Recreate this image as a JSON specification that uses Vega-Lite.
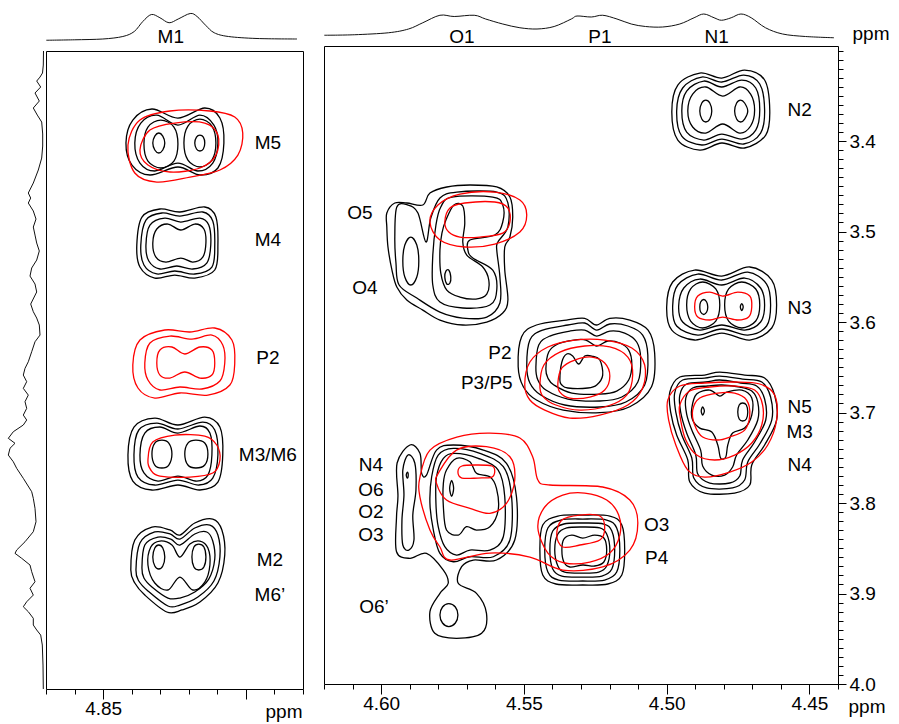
{
"$schema":"https://vega.github.io/schema/vega-lite/v6.json",
"padding":{"left":0,"top":4,"right":2,"bottom":2},
"spacing":18,
"config":{
 "view":{"stroke":"black","strokeWidth":1},
 "font":"Liberation Sans",
 "axis":{"labelFont":"Liberation Sans","labelFontSize":19,"labelColor":"black","tickColor":"black","tickWidth":1,"domain":false,"grid":false,"titleFont":"Liberation Sans","titleFontSize":19,"titleFontWeight":"normal","titleColor":"black"},
 "text":{"font":"Liberation Sans","fontSize":19,"color":"black"}
},
"datasets":{
"lk":[
{"g":1,"x":4.842,"y":3.3967},{"g":1,"x":4.8396,"y":3.3713},{"g":1,"x":4.8329,"y":3.3591},{"g":1,"x":4.8238,"y":3.3691},{"g":1,"x":4.8144,"y":3.358},{"g":1,"x":4.8091,"y":3.3691},{"g":1,"x":4.8077,"y":3.3967},{"g":1,"x":4.8098,"y":3.4243},{"g":1,"x":4.8161,"y":3.432},{"g":1,"x":4.8238,"y":3.4232},{"g":1,"x":4.8336,"y":3.432},{"g":1,"x":4.8399,"y":3.421},
{"g":2,"x":4.8389,"y":3.3967},{"g":2,"x":4.8368,"y":3.3746},{"g":2,"x":4.8312,"y":3.3658},{"g":2,"x":4.8238,"y":3.3768},{"g":2,"x":4.8161,"y":3.3658},{"g":2,"x":4.8112,"y":3.3768},{"g":2,"x":4.8098,"y":3.3967},{"g":2,"x":4.8116,"y":3.4188},{"g":2,"x":4.8168,"y":3.4276},{"g":2,"x":4.8238,"y":3.4188},{"g":2,"x":4.8319,"y":3.4276},{"g":2,"x":4.8371,"y":3.4188},
{"g":3,"x":4.8357,"y":3.3978},{"g":3,"x":4.8343,"y":3.379},{"g":3,"x":4.8298,"y":3.3713},{"g":3,"x":4.8252,"y":3.379},{"g":3,"x":4.8238,"y":3.3978},{"g":3,"x":4.8252,"y":3.4166},{"g":3,"x":4.8298,"y":3.4243},{"g":3,"x":4.8343,"y":3.4166},
{"g":4,"x":4.8217,"y":3.3967},{"g":4,"x":4.8203,"y":3.3779},{"g":4,"x":4.8161,"y":3.3702},{"g":4,"x":4.8119,"y":3.3779},{"g":4,"x":4.8105,"y":3.3967},{"g":4,"x":4.8119,"y":3.4155},{"g":4,"x":4.8161,"y":3.4232},{"g":4,"x":4.8203,"y":3.4155},
{"g":5,"x":4.8326,"y":3.3967},{"g":5,"x":4.8319,"y":3.389},{"g":5,"x":4.8305,"y":3.3856},{"g":5,"x":4.8291,"y":3.389},{"g":5,"x":4.8284,"y":3.3967},{"g":5,"x":4.8291,"y":3.4044},{"g":5,"x":4.8305,"y":3.4077},{"g":5,"x":4.8319,"y":3.4044},
{"g":6,"x":4.8179,"y":3.3967},{"g":6,"x":4.8173,"y":3.3901},{"g":6,"x":4.8161,"y":3.3879},{"g":6,"x":4.8149,"y":3.3901},{"g":6,"x":4.8144,"y":3.3967},{"g":6,"x":4.8149,"y":3.4033},{"g":6,"x":4.8161,"y":3.4055},{"g":6,"x":4.8173,"y":3.4033},
{"g":7,"x":4.8382,"y":3.5094},{"g":7,"x":4.8364,"y":3.4785},{"g":7,"x":4.8301,"y":3.4696},{"g":7,"x":4.8231,"y":3.4729},{"g":7,"x":4.8144,"y":3.4674},{"g":7,"x":4.8105,"y":3.4785},{"g":7,"x":4.8098,"y":3.5094},{"g":7,"x":4.8109,"y":3.537},{"g":7,"x":4.8179,"y":3.5459},{"g":7,"x":4.8249,"y":3.5426},{"g":7,"x":4.8319,"y":3.5459},{"g":7,"x":4.8371,"y":3.5337},
{"g":8,"x":4.8368,"y":3.5094},{"g":8,"x":4.835,"y":3.4818},{"g":8,"x":4.8294,"y":3.474},{"g":8,"x":4.8231,"y":3.4774},{"g":8,"x":4.8151,"y":3.4729},{"g":8,"x":4.8116,"y":3.4829},{"g":8,"x":4.8109,"y":3.5094},{"g":8,"x":4.8119,"y":3.5337},{"g":8,"x":4.8179,"y":3.5414},{"g":8,"x":4.8249,"y":3.5381},{"g":8,"x":4.8312,"y":3.5414},{"g":8,"x":4.8357,"y":3.5315},
{"g":9,"x":4.835,"y":3.5094},{"g":9,"x":4.8336,"y":3.4873},{"g":9,"x":4.8284,"y":3.4796},{"g":9,"x":4.8228,"y":3.484},{"g":9,"x":4.8161,"y":3.4796},{"g":9,"x":4.813,"y":3.4873},{"g":9,"x":4.8123,"y":3.5094},{"g":9,"x":4.8137,"y":3.5293},{"g":9,"x":4.8186,"y":3.5359},{"g":9,"x":4.8242,"y":3.5326},{"g":9,"x":4.8301,"y":3.5359},{"g":9,"x":4.834,"y":3.5271},
{"g":10,"x":4.8326,"y":3.5072},{"g":10,"x":4.8312,"y":3.4917},{"g":10,"x":4.8273,"y":3.4862},{"g":10,"x":4.8228,"y":3.4928},{"g":10,"x":4.8179,"y":3.4862},{"g":10,"x":4.8147,"y":3.4917},{"g":10,"x":4.814,"y":3.5072},{"g":10,"x":4.8151,"y":3.5227},{"g":10,"x":4.8186,"y":3.5282},{"g":10,"x":4.8228,"y":3.5238},{"g":10,"x":4.828,"y":3.5282},{"g":10,"x":4.8315,"y":3.5227},
{"g":11,"x":4.8413,"y":3.7415},{"g":11,"x":4.8392,"y":3.7105},{"g":11,"x":4.8319,"y":3.7006},{"g":11,"x":4.8238,"y":3.7083},{"g":11,"x":4.8144,"y":3.6995},{"g":11,"x":4.8091,"y":3.7105},{"g":11,"x":4.8081,"y":3.7415},{"g":11,"x":4.8098,"y":3.7713},{"g":11,"x":4.8161,"y":3.7801},{"g":11,"x":4.8238,"y":3.7746},{"g":11,"x":4.8329,"y":3.7801},{"g":11,"x":4.8396,"y":3.7702},
{"g":12,"x":4.8392,"y":3.7415},{"g":12,"x":4.8375,"y":3.7138},{"g":12,"x":4.8312,"y":3.7061},{"g":12,"x":4.8238,"y":3.7127},{"g":12,"x":4.8151,"y":3.705},{"g":12,"x":4.8109,"y":3.7138},{"g":12,"x":4.8098,"y":3.7415},{"g":12,"x":4.8116,"y":3.7669},{"g":12,"x":4.8165,"y":3.7746},{"g":12,"x":4.8238,"y":3.7691},{"g":12,"x":4.8319,"y":3.7746},{"g":12,"x":4.8378,"y":3.7658},
{"g":13,"x":4.8371,"y":3.7415},{"g":13,"x":4.8354,"y":3.7172},{"g":13,"x":4.8301,"y":3.7105},{"g":13,"x":4.8238,"y":3.7172},{"g":13,"x":4.8161,"y":3.7094},{"g":13,"x":4.8126,"y":3.7172},{"g":13,"x":4.8119,"y":3.7415},{"g":13,"x":4.8133,"y":3.7636},{"g":13,"x":4.8172,"y":3.7702},{"g":13,"x":4.8238,"y":3.7647},{"g":13,"x":4.8308,"y":3.7702},{"g":13,"x":4.8357,"y":3.7613},
{"g":14,"x":4.8329,"y":3.7403},{"g":14,"x":4.8319,"y":3.7282},{"g":14,"x":4.8294,"y":3.7249},{"g":14,"x":4.827,"y":3.7282},{"g":14,"x":4.8259,"y":3.7403},{"g":14,"x":4.827,"y":3.7525},{"g":14,"x":4.8294,"y":3.7558},{"g":14,"x":4.8319,"y":3.7525},
{"g":15,"x":4.8214,"y":3.7403},{"g":15,"x":4.8203,"y":3.7282},{"g":15,"x":4.8175,"y":3.7249},{"g":15,"x":4.8144,"y":3.7282},{"g":15,"x":4.8133,"y":3.7403},{"g":15,"x":4.8144,"y":3.7525},{"g":15,"x":4.8175,"y":3.7558},{"g":15,"x":4.8203,"y":3.7525},
{"g":16,"x":4.8403,"y":3.8685},{"g":16,"x":4.8389,"y":3.8354},{"g":16,"x":4.8329,"y":3.821},{"g":16,"x":4.8266,"y":3.8243},{"g":16,"x":4.8231,"y":3.8299},{"g":16,"x":4.8179,"y":3.8166},{"g":16,"x":4.8116,"y":3.8122},{"g":16,"x":4.8084,"y":3.8243},{"g":16,"x":4.8074,"y":3.852},{"g":16,"x":4.8098,"y":3.8829},{"g":16,"x":4.8161,"y":3.9039},{"g":16,"x":4.8224,"y":3.9127},{"g":16,"x":4.8277,"y":3.9149},{"g":16,"x":4.8354,"y":3.8962},{"g":16,"x":4.8389,"y":3.8829},
{"g":17,"x":4.8385,"y":3.8685},{"g":17,"x":4.8371,"y":3.8387},{"g":17,"x":4.8319,"y":3.8265},{"g":17,"x":4.8266,"y":3.8287},{"g":17,"x":4.8231,"y":3.8343},{"g":17,"x":4.8179,"y":3.8221},{"g":17,"x":4.8126,"y":3.8188},{"g":17,"x":4.8098,"y":3.8299},{"g":17,"x":4.8091,"y":3.8542},{"g":17,"x":4.8112,"y":3.8807},{"g":17,"x":4.8168,"y":3.8984},{"g":17,"x":4.8231,"y":3.9072},{"g":17,"x":4.8273,"y":3.9083},{"g":17,"x":4.8343,"y":3.8917},{"g":17,"x":4.8375,"y":3.8807},
{"g":18,"x":4.8364,"y":3.8663},{"g":18,"x":4.8354,"y":3.8409},{"g":18,"x":4.8308,"y":3.8321},{"g":18,"x":4.8263,"y":3.8343},{"g":18,"x":4.8231,"y":3.8409},{"g":18,"x":4.8179,"y":3.8287},{"g":18,"x":4.8137,"y":3.8265},{"g":18,"x":4.8116,"y":3.8365},{"g":18,"x":4.8109,"y":3.8564},{"g":18,"x":4.813,"y":3.8785},{"g":18,"x":4.8179,"y":3.8928},{"g":18,"x":4.8231,"y":3.8995},{"g":18,"x":4.8273,"y":3.8995},{"g":18,"x":4.8329,"y":3.8873},{"g":18,"x":4.8357,"y":3.8774},
{"g":19,"x":4.8343,"y":3.863},{"g":19,"x":4.8333,"y":3.8431},{"g":19,"x":4.8301,"y":3.8365},{"g":19,"x":4.8259,"y":3.8409},{"g":19,"x":4.8231,"y":3.8542},{"g":19,"x":4.8196,"y":3.8398},{"g":19,"x":4.8161,"y":3.8365},{"g":19,"x":4.8133,"y":3.8442},{"g":19,"x":4.8126,"y":3.863},{"g":19,"x":4.8144,"y":3.8818},{"g":19,"x":4.8186,"y":3.8906},{"g":19,"x":4.8231,"y":3.8763},{"g":19,"x":4.8273,"y":3.8906},{"g":19,"x":4.8319,"y":3.8829},
{"g":20,"x":4.8326,"y":3.8542},{"g":20,"x":4.8319,"y":3.8442},{"g":20,"x":4.8305,"y":3.8409},{"g":20,"x":4.8291,"y":3.8442},{"g":20,"x":4.8284,"y":3.8542},{"g":20,"x":4.8291,"y":3.8641},{"g":20,"x":4.8305,"y":3.8674},{"g":20,"x":4.8319,"y":3.8641},
{"g":21,"x":4.8189,"y":3.8542},{"g":21,"x":4.8182,"y":3.8431},{"g":21,"x":4.8165,"y":3.8398},{"g":21,"x":4.8147,"y":3.8431},{"g":21,"x":4.814,"y":3.8542},{"g":21,"x":4.8147,"y":3.8652},{"g":21,"x":4.8165,"y":3.8685},{"g":21,"x":4.8182,"y":3.8652}
],
"lr":[
{"g":1,"x":4.8413,"y":3.3989},{"g":1,"x":4.8371,"y":3.3713},{"g":1,"x":4.8266,"y":3.3613},{"g":1,"x":4.8126,"y":3.3613},{"g":1,"x":4.8039,"y":3.368},{"g":1,"x":4.8011,"y":3.3856},{"g":1,"x":4.8028,"y":3.41},{"g":1,"x":4.8091,"y":3.4265},{"g":1,"x":4.8196,"y":3.4343},{"g":1,"x":4.8312,"y":3.4398},{"g":1,"x":4.8389,"y":3.4298},
{"g":2,"x":4.8371,"y":3.4044},{"g":2,"x":4.8336,"y":3.3823},{"g":2,"x":4.8249,"y":3.3746},{"g":2,"x":4.8144,"y":3.3746},{"g":2,"x":4.8098,"y":3.3879},{"g":2,"x":4.8105,"y":3.41},{"g":2,"x":4.8161,"y":3.4243},{"g":2,"x":4.8266,"y":3.4287},{"g":2,"x":4.8343,"y":3.421},
{"g":3,"x":4.8396,"y":3.642},{"g":3,"x":4.8371,"y":3.6144},{"g":3,"x":4.8284,"y":3.6033},{"g":3,"x":4.8196,"y":3.6055},{"g":3,"x":4.8109,"y":3.6011},{"g":3,"x":4.8049,"y":3.6144},{"g":3,"x":4.8039,"y":3.6398},{"g":3,"x":4.8056,"y":3.6641},{"g":3,"x":4.8133,"y":3.6752},{"g":3,"x":4.8231,"y":3.6729},{"g":3,"x":4.8319,"y":3.6785},{"g":3,"x":4.8378,"y":3.6674},
{"g":4,"x":4.8354,"y":3.6398},{"g":4,"x":4.8336,"y":3.6177},{"g":4,"x":4.8266,"y":3.61},{"g":4,"x":4.8189,"y":3.6133},{"g":4,"x":4.8119,"y":3.6089},{"g":4,"x":4.8081,"y":3.6199},{"g":4,"x":4.8074,"y":3.6398},{"g":4,"x":4.8091,"y":3.6597},{"g":4,"x":4.8154,"y":3.6685},{"g":4,"x":4.8231,"y":3.6663},{"g":4,"x":4.8301,"y":3.6696},{"g":4,"x":4.8343,"y":3.6586},
{"g":5,"x":4.8312,"y":3.6398},{"g":5,"x":4.8301,"y":3.6254},{"g":5,"x":4.8259,"y":3.6221},{"g":5,"x":4.8214,"y":3.6298},{"g":5,"x":4.8161,"y":3.6221},{"g":5,"x":4.8119,"y":3.6254},{"g":5,"x":4.8109,"y":3.6398},{"g":5,"x":4.8119,"y":3.6531},{"g":5,"x":4.8161,"y":3.6564},{"g":5,"x":4.8214,"y":3.6497},{"g":5,"x":4.8266,"y":3.6564},{"g":5,"x":4.8301,"y":3.6531},
{"g":6,"x":4.8343,"y":3.747},{"g":6,"x":4.8326,"y":3.7271},{"g":6,"x":4.8249,"y":3.7194},{"g":6,"x":4.8144,"y":3.7205},{"g":6,"x":4.8102,"y":3.7304},{"g":6,"x":4.8091,"y":3.747},{"g":6,"x":4.8116,"y":3.7613},{"g":6,"x":4.8196,"y":3.7658},{"g":6,"x":4.8301,"y":3.7647},{"g":6,"x":4.8333,"y":3.758}
],
"rk":[
{"g":1,"x":4.4982,"y":3.368},{"g":1,"x":4.4961,"y":3.3381},{"g":1,"x":4.4884,"y":3.3249},{"g":1,"x":4.4807,"y":3.3304},{"g":1,"x":4.4727,"y":3.3216},{"g":1,"x":4.4657,"y":3.3326},{"g":1,"x":4.4639,"y":3.3658},{"g":1,"x":4.4653,"y":3.3934},{"g":1,"x":4.4727,"y":3.4077},{"g":1,"x":4.4807,"y":3.4022},{"g":1,"x":4.4884,"y":3.41},{"g":1,"x":4.4961,"y":3.3989},
{"g":2,"x":4.4965,"y":3.3669},{"g":2,"x":4.4944,"y":3.3414},{"g":2,"x":4.4877,"y":3.3293},{"g":2,"x":4.4807,"y":3.3348},{"g":2,"x":4.473,"y":3.3271},{"g":2,"x":4.4674,"y":3.337},{"g":2,"x":4.4657,"y":3.3658},{"g":2,"x":4.4671,"y":3.3912},{"g":2,"x":4.473,"y":3.4033},{"g":2,"x":4.4807,"y":3.3978},{"g":2,"x":4.4877,"y":3.4044},{"g":2,"x":4.4947,"y":3.3945},
{"g":3,"x":4.4947,"y":3.3669},{"g":3,"x":4.493,"y":3.3448},{"g":3,"x":4.487,"y":3.3337},{"g":3,"x":4.4807,"y":3.3403},{"g":3,"x":4.4737,"y":3.3326},{"g":3,"x":4.4688,"y":3.3414},{"g":3,"x":4.4674,"y":3.3658},{"g":3,"x":4.4688,"y":3.3879},{"g":3,"x":4.4737,"y":3.3978},{"g":3,"x":4.4807,"y":3.3923},{"g":3,"x":4.487,"y":3.3989},{"g":3,"x":4.493,"y":3.3901},
{"g":4,"x":4.4926,"y":3.3669},{"g":4,"x":4.4909,"y":3.3481},{"g":4,"x":4.4863,"y":3.3403},{"g":4,"x":4.4804,"y":3.3503},{"g":4,"x":4.4744,"y":3.3403},{"g":4,"x":4.4706,"y":3.3481},{"g":4,"x":4.4692,"y":3.3658},{"g":4,"x":4.4706,"y":3.3834},{"g":4,"x":4.4744,"y":3.3912},{"g":4,"x":4.4804,"y":3.3812},{"g":4,"x":4.4863,"y":3.3912},{"g":4,"x":4.4909,"y":3.3845},
{"g":5,"x":4.4884,"y":3.3669},{"g":5,"x":4.4877,"y":3.358},{"g":5,"x":4.4863,"y":3.3547},{"g":5,"x":4.4849,"y":3.358},{"g":5,"x":4.4842,"y":3.3669},{"g":5,"x":4.4849,"y":3.3757},{"g":5,"x":4.4863,"y":3.379},{"g":5,"x":4.4877,"y":3.3757},
{"g":6,"x":4.4762,"y":3.3669},{"g":6,"x":4.4755,"y":3.358},{"g":6,"x":4.4741,"y":3.3547},{"g":6,"x":4.4727,"y":3.358},{"g":6,"x":4.4716,"y":3.3669},{"g":6,"x":4.4727,"y":3.3757},{"g":6,"x":4.4741,"y":3.379},{"g":6,"x":4.4755,"y":3.3757},
{"g":7,"x":4.5,"y":3.5834},{"g":7,"x":4.4979,"y":3.5558},{"g":7,"x":4.4902,"y":3.5426},{"g":7,"x":4.4807,"y":3.5492},{"g":7,"x":4.4709,"y":3.5392},{"g":7,"x":4.4632,"y":3.5536},{"g":7,"x":4.4615,"y":3.5812},{"g":7,"x":4.4632,"y":3.6066},{"g":7,"x":4.4709,"y":3.6199},{"g":7,"x":4.4807,"y":3.6122},{"g":7,"x":4.4902,"y":3.6199},{"g":7,"x":4.4982,"y":3.6089},
{"g":8,"x":4.4979,"y":3.5823},{"g":8,"x":4.4961,"y":3.5591},{"g":8,"x":4.4891,"y":3.547},{"g":8,"x":4.4807,"y":3.5536},{"g":8,"x":4.4716,"y":3.5448},{"g":8,"x":4.465,"y":3.558},{"g":8,"x":4.4636,"y":3.5812},{"g":8,"x":4.465,"y":3.6044},{"g":8,"x":4.4716,"y":3.6144},{"g":8,"x":4.4807,"y":3.6077},{"g":8,"x":4.4891,"y":3.6144},{"g":8,"x":4.4965,"y":3.6044},
{"g":9,"x":4.4958,"y":3.5823},{"g":9,"x":4.494,"y":3.5624},{"g":9,"x":4.4884,"y":3.5525},{"g":9,"x":4.4807,"y":3.5591},{"g":9,"x":4.4727,"y":3.5514},{"g":9,"x":4.4671,"y":3.5624},{"g":9,"x":4.4657,"y":3.5812},{"g":9,"x":4.4671,"y":3.6},{"g":9,"x":4.4727,"y":3.6089},{"g":9,"x":4.4807,"y":3.6033},{"g":9,"x":4.4884,"y":3.6089},{"g":9,"x":4.4944,"y":3.6},
{"g":10,"x":4.493,"y":3.5812},{"g":10,"x":4.4916,"y":3.5635},{"g":10,"x":4.4874,"y":3.5558},{"g":10,"x":4.4828,"y":3.5635},{"g":10,"x":4.4814,"y":3.5812},{"g":10,"x":4.4828,"y":3.5989},{"g":10,"x":4.4874,"y":3.6066},{"g":10,"x":4.4916,"y":3.5989},
{"g":11,"x":4.4797,"y":3.5812},{"g":11,"x":4.4783,"y":3.5635},{"g":11,"x":4.4737,"y":3.5558},{"g":11,"x":4.4688,"y":3.5635},{"g":11,"x":4.4674,"y":3.5812},{"g":11,"x":4.4688,"y":3.5989},{"g":11,"x":4.4737,"y":3.6066},{"g":11,"x":4.4783,"y":3.5989},
{"g":12,"x":4.4884,"y":3.5834},{"g":12,"x":4.4881,"y":3.5779},{"g":12,"x":4.487,"y":3.5751},{"g":12,"x":4.486,"y":3.5779},{"g":12,"x":4.4856,"y":3.5834},{"g":12,"x":4.486,"y":3.589},{"g":12,"x":4.487,"y":3.5917},{"g":12,"x":4.4881,"y":3.589},
{"g":13,"x":4.4742,"y":3.5834},{"g":13,"x":4.4737,"y":3.5796},{"g":13,"x":4.4732,"y":3.5834},{"g":13,"x":4.4737,"y":3.5873},
{"g":14,"x":4.4989,"y":3.6774},{"g":14,"x":4.4954,"y":3.6608},{"g":14,"x":4.4867,"y":3.6586},{"g":14,"x":4.4814,"y":3.6553},{"g":14,"x":4.4727,"y":3.6586},{"g":14,"x":4.4657,"y":3.6619},{"g":14,"x":4.4622,"y":3.6807},{"g":14,"x":4.4615,"y":3.7083},{"g":14,"x":4.4657,"y":3.7359},{"g":14,"x":4.4702,"y":3.758},{"g":14,"x":4.4709,"y":3.7801},{"g":14,"x":4.4762,"y":3.789},{"g":14,"x":4.4867,"y":3.789},{"g":14,"x":4.4919,"y":3.7768},{"g":14,"x":4.4926,"y":3.7525},{"g":14,"x":4.4965,"y":3.7249},{"g":14,"x":4.4986,"y":3.6995},
{"g":15,"x":4.4972,"y":3.6785},{"g":15,"x":4.4944,"y":3.6641},{"g":15,"x":4.4867,"y":3.6619},{"g":15,"x":4.4814,"y":3.6597},{"g":15,"x":4.4734,"y":3.663},{"g":15,"x":4.4667,"y":3.6663},{"g":15,"x":4.4636,"y":3.6829},{"g":15,"x":4.4632,"y":3.7083},{"g":15,"x":4.4674,"y":3.7348},{"g":15,"x":4.4716,"y":3.7547},{"g":15,"x":4.4727,"y":3.7746},{"g":15,"x":4.4769,"y":3.7834},{"g":15,"x":4.486,"y":3.7834},{"g":15,"x":4.4905,"y":3.7724},{"g":15,"x":4.4912,"y":3.7503},{"g":15,"x":4.4947,"y":3.7249},{"g":15,"x":4.4968,"y":3.6995},
{"g":16,"x":4.4954,"y":3.6807},{"g":16,"x":4.493,"y":3.6685},{"g":16,"x":4.4863,"y":3.6663},{"g":16,"x":4.4814,"y":3.6641},{"g":16,"x":4.4741,"y":3.6674},{"g":16,"x":4.4685,"y":3.6707},{"g":16,"x":4.4657,"y":3.6851},{"g":16,"x":4.4653,"y":3.7083},{"g":16,"x":4.4692,"y":3.7326},{"g":16,"x":4.4734,"y":3.7525},{"g":16,"x":4.4744,"y":3.7702},{"g":16,"x":4.4779,"y":3.7779},{"g":16,"x":4.4849,"y":3.7779},{"g":16,"x":4.4891,"y":3.768},{"g":16,"x":4.4898,"y":3.747},{"g":16,"x":4.493,"y":3.7227},{"g":16,"x":4.4951,"y":3.6995},
{"g":17,"x":4.4933,"y":3.684},{"g":17,"x":4.4909,"y":3.6729},{"g":17,"x":4.4856,"y":3.6707},{"g":17,"x":4.4807,"y":3.6696},{"g":17,"x":4.4744,"y":3.6718},{"g":17,"x":4.4702,"y":3.6763},{"g":17,"x":4.4681,"y":3.6884},{"g":17,"x":4.4681,"y":3.7083},{"g":17,"x":4.4716,"y":3.7304},{"g":17,"x":4.4755,"y":3.747},{"g":17,"x":4.4769,"y":3.7602},{"g":17,"x":4.4797,"y":3.7691},{"g":17,"x":4.4842,"y":3.7691},{"g":17,"x":4.4874,"y":3.7591},{"g":17,"x":4.4881,"y":3.7415},{"g":17,"x":4.4912,"y":3.7194},{"g":17,"x":4.493,"y":3.7017},
{"g":18,"x":4.4912,"y":3.695},{"g":18,"x":4.4895,"y":3.6796},{"g":18,"x":4.4849,"y":3.6752},{"g":18,"x":4.4814,"y":3.6818},{"g":18,"x":4.479,"y":3.6774},{"g":18,"x":4.4737,"y":3.6752},{"g":18,"x":4.4702,"y":3.684},{"g":18,"x":4.4702,"y":3.7028},{"g":18,"x":4.4727,"y":3.7172},{"g":18,"x":4.4769,"y":3.7227},{"g":18,"x":4.4786,"y":3.7359},{"g":18,"x":4.4793,"y":3.7492},{"g":18,"x":4.4811,"y":3.7503},{"g":18,"x":4.4821,"y":3.7359},{"g":18,"x":4.4842,"y":3.7216},{"g":18,"x":4.4884,"y":3.7172},{"g":18,"x":4.4909,"y":3.7083},
{"g":19,"x":4.4879,"y":3.6984},{"g":19,"x":4.4874,"y":3.6939},{"g":19,"x":4.4868,"y":3.6984},{"g":19,"x":4.4874,"y":3.7028},
{"g":20,"x":4.4751,"y":3.6995},{"g":20,"x":4.4746,"y":3.6917},{"g":20,"x":4.4734,"y":3.6895},{"g":20,"x":4.4721,"y":3.6917},{"g":20,"x":4.4716,"y":3.6995},{"g":20,"x":4.4721,"y":3.7072},{"g":20,"x":4.4734,"y":3.7094},{"g":20,"x":4.4746,"y":3.7072},
{"g":21,"x":4.598,"y":3.4796},{"g":21,"x":4.5952,"y":3.4685},{"g":21,"x":4.591,"y":3.4685},{"g":21,"x":4.5854,"y":3.4707},{"g":21,"x":4.5829,"y":3.4575},{"g":21,"x":4.577,"y":3.4508},{"g":21,"x":4.5689,"y":3.4486},{"g":21,"x":4.5595,"y":3.4508},{"g":21,"x":4.5549,"y":3.4619},{"g":21,"x":4.5539,"y":3.484},{"g":21,"x":4.5549,"y":3.5061},{"g":21,"x":4.5567,"y":3.5171},{"g":21,"x":4.5567,"y":3.5426},{"g":21,"x":4.5556,"y":3.5757},{"g":21,"x":4.5574,"y":3.5901},{"g":21,"x":4.563,"y":3.6},{"g":21,"x":4.5714,"y":3.6033},{"g":21,"x":4.5794,"y":3.5978},{"g":21,"x":4.5854,"y":3.5868},{"g":21,"x":4.591,"y":3.5757},{"g":21,"x":4.5945,"y":3.5613},{"g":21,"x":4.5962,"y":3.5426},{"g":21,"x":4.5976,"y":3.5171},{"g":21,"x":4.598,"y":3.495},
{"g":22,"x":4.5945,"y":3.4729},{"g":22,"x":4.5906,"y":3.4707},{"g":22,"x":4.5871,"y":3.4796},{"g":22,"x":4.5843,"y":3.5116},{"g":22,"x":4.5826,"y":3.4851},{"g":22,"x":4.5794,"y":3.463},{"g":22,"x":4.5735,"y":3.4564},{"g":22,"x":4.5595,"y":3.4564},{"g":22,"x":4.5556,"y":3.4685},{"g":22,"x":4.5556,"y":3.495},{"g":22,"x":4.5591,"y":3.5116},{"g":22,"x":4.5595,"y":3.5205},{"g":22,"x":4.5584,"y":3.5503},{"g":22,"x":4.5584,"y":3.579},{"g":22,"x":4.563,"y":3.5945},{"g":22,"x":4.5714,"y":3.5956},{"g":22,"x":4.5794,"y":3.589},{"g":22,"x":4.5875,"y":3.5735},{"g":22,"x":4.5937,"y":3.5591},{"g":22,"x":4.5948,"y":3.5348},{"g":22,"x":4.5952,"y":3.5061},
{"g":23,"x":4.5924,"y":3.5326},{"g":23,"x":4.5917,"y":3.5149},{"g":23,"x":4.5896,"y":3.5061},{"g":23,"x":4.5875,"y":3.5149},{"g":23,"x":4.5868,"y":3.5326},{"g":23,"x":4.5875,"y":3.5503},{"g":23,"x":4.5896,"y":3.5591},{"g":23,"x":4.5917,"y":3.5503},
{"g":24,"x":4.5791,"y":3.4729},{"g":24,"x":4.5752,"y":3.4619},{"g":24,"x":4.5609,"y":3.4619},{"g":24,"x":4.5574,"y":3.4707},{"g":24,"x":4.5574,"y":3.4895},{"g":24,"x":4.5602,"y":3.5039},{"g":24,"x":4.5689,"y":3.5094},{"g":24,"x":4.5696,"y":3.5205},{"g":24,"x":4.5679,"y":3.5293},{"g":24,"x":4.5609,"y":3.5426},{"g":24,"x":4.5595,"y":3.5647},{"g":24,"x":4.5619,"y":3.5812},{"g":24,"x":4.5714,"y":3.5845},{"g":24,"x":4.5794,"y":3.5779},{"g":24,"x":4.5819,"y":3.5591},{"g":24,"x":4.5819,"y":3.526},{"g":24,"x":4.5808,"y":3.4928},
{"g":25,"x":4.5773,"y":3.4873},{"g":25,"x":4.5745,"y":3.4707},{"g":25,"x":4.5714,"y":3.4718},{"g":25,"x":4.5707,"y":3.4906},{"g":25,"x":4.5714,"y":3.5116},{"g":25,"x":4.57,"y":3.526},{"g":25,"x":4.5644,"y":3.5392},{"g":25,"x":4.5623,"y":3.5536},{"g":25,"x":4.563,"y":3.5691},{"g":25,"x":4.5668,"y":3.5746},{"g":25,"x":4.5724,"y":3.5724},{"g":25,"x":4.577,"y":3.5647},{"g":25,"x":4.5791,"y":3.5459},{"g":25,"x":4.5794,"y":3.5205},{"g":25,"x":4.5787,"y":3.5017},
{"g":26,"x":4.5777,"y":3.5503},{"g":26,"x":4.5773,"y":3.5437},{"g":26,"x":4.5763,"y":3.5426},{"g":26,"x":4.5756,"y":3.5503},{"g":26,"x":4.5759,"y":3.5569},{"g":26,"x":4.577,"y":3.558},
{"g":27,"x":4.552,"y":3.6494},{"g":27,"x":4.5508,"y":3.6162},{"g":27,"x":4.5456,"y":3.6033},{"g":27,"x":4.5351,"y":3.5978},{"g":27,"x":4.5287,"y":3.5959},{"g":27,"x":4.5246,"y":3.6033},{"g":27,"x":4.5199,"y":3.5959},{"g":27,"x":4.5129,"y":3.5978},{"g":27,"x":4.5065,"y":3.6089},{"g":27,"x":4.5042,"y":3.6346},{"g":27,"x":4.5053,"y":3.6715},{"g":27,"x":4.5129,"y":3.6936},{"g":27,"x":4.5234,"y":3.7002},{"g":27,"x":4.5362,"y":3.6973},{"g":27,"x":4.5456,"y":3.6862},{"g":27,"x":4.5502,"y":3.6715},
{"g":28,"x":4.549,"y":3.6486},{"g":28,"x":4.5479,"y":3.6199},{"g":28,"x":4.5434,"y":3.6089},{"g":28,"x":4.5346,"y":3.6033},{"g":28,"x":4.5287,"y":3.6011},{"g":28,"x":4.5245,"y":3.6089},{"g":28,"x":4.5199,"y":3.6022},{"g":28,"x":4.5136,"y":3.6044},{"g":28,"x":4.5084,"y":3.6144},{"g":28,"x":4.5066,"y":3.6365},{"g":28,"x":4.5077,"y":3.6696},{"g":28,"x":4.5143,"y":3.6884},{"g":28,"x":4.5234,"y":3.6939},{"g":28,"x":4.5357,"y":3.6917},{"g":28,"x":4.5441,"y":3.6807},{"g":28,"x":4.5479,"y":3.6674},
{"g":29,"x":4.5458,"y":3.6497},{"g":29,"x":4.5448,"y":3.6254},{"g":29,"x":4.5409,"y":3.6155},{"g":29,"x":4.5339,"y":3.61},{"g":29,"x":4.5287,"y":3.6089},{"g":29,"x":4.5245,"y":3.6155},{"g":29,"x":4.5199,"y":3.61},{"g":29,"x":4.5147,"y":3.6122},{"g":29,"x":4.5105,"y":3.6221},{"g":29,"x":4.5091,"y":3.6398},{"g":29,"x":4.5101,"y":3.6663},{"g":29,"x":4.5157,"y":3.6829},{"g":29,"x":4.5234,"y":3.6873},{"g":29,"x":4.5346,"y":3.6851},{"g":29,"x":4.5423,"y":3.6752},{"g":29,"x":4.5451,"y":3.6641},
{"g":30,"x":4.5423,"y":3.6519},{"g":30,"x":4.5413,"y":3.6332},{"g":30,"x":4.5381,"y":3.6243},{"g":30,"x":4.5325,"y":3.6199},{"g":30,"x":4.5283,"y":3.6199},{"g":30,"x":4.5245,"y":3.6265},{"g":30,"x":4.5206,"y":3.621},{"g":30,"x":4.5164,"y":3.6232},{"g":30,"x":4.5133,"y":3.631},{"g":30,"x":4.5122,"y":3.6464},{"g":30,"x":4.5133,"y":3.6641},{"g":30,"x":4.5175,"y":3.6763},{"g":30,"x":4.5234,"y":3.6796},{"g":30,"x":4.5332,"y":3.6785},{"g":30,"x":4.5395,"y":3.6696},{"g":30,"x":4.5416,"y":3.6619},
{"g":31,"x":4.5374,"y":3.6641},{"g":31,"x":4.5367,"y":3.6442},{"g":31,"x":4.535,"y":3.6354},{"g":31,"x":4.5329,"y":3.6376},{"g":31,"x":4.5308,"y":3.6464},{"g":31,"x":4.5287,"y":3.6376},{"g":31,"x":4.5262,"y":3.6376},{"g":31,"x":4.5234,"y":3.642},{"g":31,"x":4.5224,"y":3.6586},{"g":31,"x":4.5245,"y":3.6696},{"g":31,"x":4.5276,"y":3.6729},{"g":31,"x":4.5346,"y":3.6729},{"g":31,"x":4.5367,"y":3.6696},
{"g":32,"x":4.5899,"y":3.7359},{"g":32,"x":4.5864,"y":3.7451},{"g":32,"x":4.5858,"y":3.7672},{"g":32,"x":4.5841,"y":3.7691},{"g":32,"x":4.5806,"y":3.7415},{"g":32,"x":4.5747,"y":3.7359},{"g":32,"x":4.5642,"y":3.7415},{"g":32,"x":4.5561,"y":3.7561},{"g":32,"x":4.5526,"y":3.7931},{"g":32,"x":4.5532,"y":3.8409},{"g":32,"x":4.5596,"y":3.863},{"g":32,"x":4.5677,"y":3.863},{"g":32,"x":4.5718,"y":3.8704},{"g":32,"x":4.573,"y":3.8887},{"g":32,"x":4.5666,"y":3.8998},{"g":32,"x":4.5631,"y":3.9219},{"g":32,"x":4.5648,"y":3.944},{"g":32,"x":4.5736,"y":3.9495},{"g":32,"x":4.5812,"y":3.944},{"g":32,"x":4.5829,"y":3.9201},{"g":32,"x":4.5794,"y":3.8998},{"g":32,"x":4.5765,"y":3.8887},{"g":32,"x":4.5782,"y":3.8741},{"g":32,"x":4.5841,"y":3.8556},{"g":32,"x":4.5899,"y":3.8611},{"g":32,"x":4.5946,"y":3.8538},{"g":32,"x":4.5946,"y":3.8152},{"g":32,"x":4.5941,"y":3.7923},{"g":32,"x":4.5944,"y":3.7558},
{"g":33,"x":4.5906,"y":3.747},{"g":33,"x":4.5882,"y":3.7558},{"g":33,"x":4.5878,"y":3.7857},{"g":33,"x":4.5889,"y":3.8133},{"g":33,"x":4.5885,"y":3.8409},{"g":33,"x":4.5903,"y":3.852},{"g":33,"x":4.5924,"y":3.8464},{"g":33,"x":4.5927,"y":3.8188},{"g":33,"x":4.592,"y":3.7912},{"g":33,"x":4.5924,"y":3.7636},
{"g":34,"x":4.5912,"y":3.7691},{"g":34,"x":4.5908,"y":3.7658},{"g":34,"x":4.5905,"y":3.7691},{"g":34,"x":4.5908,"y":3.7724},
{"g":35,"x":4.5823,"y":3.771},{"g":35,"x":4.58,"y":3.747},{"g":35,"x":4.5747,"y":3.7396},{"g":35,"x":4.5654,"y":3.7451},{"g":35,"x":4.5572,"y":3.7599},{"g":35,"x":4.5543,"y":3.7931},{"g":35,"x":4.5549,"y":3.8409},{"g":35,"x":4.5607,"y":3.8594},{"g":35,"x":4.5689,"y":3.8594},{"g":35,"x":4.5747,"y":3.8649},{"g":35,"x":4.5794,"y":3.8556},{"g":35,"x":4.5817,"y":3.8299},{"g":35,"x":4.5829,"y":3.8003},
{"g":36,"x":4.5806,"y":3.771},{"g":36,"x":4.5782,"y":3.7506},{"g":36,"x":4.5742,"y":3.7451},{"g":36,"x":4.566,"y":3.7506},{"g":36,"x":4.559,"y":3.7636},{"g":36,"x":4.5567,"y":3.7931},{"g":36,"x":4.5572,"y":3.8373},{"g":36,"x":4.5619,"y":3.852},{"g":36,"x":4.5689,"y":3.852},{"g":36,"x":4.5736,"y":3.8575},{"g":36,"x":4.5777,"y":3.8483},{"g":36,"x":4.58,"y":3.8262},{"g":36,"x":4.5808,"y":3.8003},
{"g":37,"x":4.5771,"y":3.7636},{"g":37,"x":4.5736,"y":3.7506},{"g":37,"x":4.5689,"y":3.7544},{"g":37,"x":4.5666,"y":3.7672},{"g":37,"x":4.5619,"y":3.771},{"g":37,"x":4.5596,"y":3.7838},{"g":37,"x":4.559,"y":3.8078},{"g":37,"x":4.5619,"y":3.8262},{"g":37,"x":4.5666,"y":3.8299},{"g":37,"x":4.5701,"y":3.8262},{"g":37,"x":4.573,"y":3.8354},{"g":37,"x":4.5771,"y":3.8299},{"g":37,"x":4.5782,"y":3.8041},{"g":37,"x":4.5782,"y":3.7783},
{"g":38,"x":4.576,"y":3.7838},{"g":38,"x":4.5753,"y":3.7749},{"g":38,"x":4.5746,"y":3.7838},{"g":38,"x":4.5753,"y":3.7926},
{"g":39,"x":4.5794,"y":3.9238},{"g":39,"x":4.5785,"y":3.9149},{"g":39,"x":4.5763,"y":3.9111},{"g":39,"x":4.574,"y":3.9149},{"g":39,"x":4.5731,"y":3.9238},{"g":39,"x":4.574,"y":3.9326},{"g":39,"x":4.5763,"y":3.9365},{"g":39,"x":4.5785,"y":3.9326},
{"g":40,"x":4.5444,"y":3.852},{"g":40,"x":4.5434,"y":3.8243},{"g":40,"x":4.5381,"y":3.8144},{"g":40,"x":4.5294,"y":3.8133},{"g":40,"x":4.5199,"y":3.8144},{"g":40,"x":4.5157,"y":3.8243},{"g":40,"x":4.5147,"y":3.852},{"g":40,"x":4.5157,"y":3.8796},{"g":40,"x":4.5206,"y":3.8895},{"g":40,"x":4.5294,"y":3.8906},{"g":40,"x":4.5388,"y":3.8895},{"g":40,"x":4.5434,"y":3.8796},
{"g":41,"x":4.5427,"y":3.852},{"g":41,"x":4.5416,"y":3.8276},{"g":41,"x":4.5371,"y":3.8188},{"g":41,"x":4.5294,"y":3.8177},{"g":41,"x":4.521,"y":3.8188},{"g":41,"x":4.5175,"y":3.8276},{"g":41,"x":4.5164,"y":3.852},{"g":41,"x":4.5175,"y":3.8763},{"g":41,"x":4.5217,"y":3.8851},{"g":41,"x":4.5294,"y":3.8862},{"g":41,"x":4.5378,"y":3.8851},{"g":41,"x":4.5416,"y":3.8763},
{"g":42,"x":4.5409,"y":3.852},{"g":42,"x":4.5399,"y":3.831},{"g":42,"x":4.536,"y":3.8232},{"g":42,"x":4.5294,"y":3.8221},{"g":42,"x":4.522,"y":3.8232},{"g":42,"x":4.5192,"y":3.831},{"g":42,"x":4.5182,"y":3.852},{"g":42,"x":4.5192,"y":3.8729},{"g":42,"x":4.5227,"y":3.8807},{"g":42,"x":4.5294,"y":3.8818},{"g":42,"x":4.5367,"y":3.8807},{"g":42,"x":4.5399,"y":3.8729},
{"g":43,"x":4.5392,"y":3.852},{"g":43,"x":4.5381,"y":3.8343},{"g":43,"x":4.535,"y":3.8276},{"g":43,"x":4.5294,"y":3.8265},{"g":43,"x":4.5234,"y":3.8276},{"g":43,"x":4.521,"y":3.8343},{"g":43,"x":4.5199,"y":3.852},{"g":43,"x":4.521,"y":3.8696},{"g":43,"x":4.5238,"y":3.8763},{"g":43,"x":4.5294,"y":3.8774},{"g":43,"x":4.5357,"y":3.8763},{"g":43,"x":4.5381,"y":3.8696},
{"g":44,"x":4.5367,"y":3.852},{"g":44,"x":4.536,"y":3.8398},{"g":44,"x":4.5332,"y":3.8354},{"g":44,"x":4.5294,"y":3.8387},{"g":44,"x":4.5252,"y":3.8354},{"g":44,"x":4.522,"y":3.8387},{"g":44,"x":4.521,"y":3.852},{"g":44,"x":4.522,"y":3.8652},{"g":44,"x":4.5252,"y":3.8696},{"g":44,"x":4.5294,"y":3.8685},{"g":44,"x":4.5339,"y":3.8707},{"g":44,"x":4.536,"y":3.8652}
],
"rr":[
{"g":1,"x":4.4902,"y":3.5834},{"g":1,"x":4.4891,"y":3.5713},{"g":1,"x":4.4849,"y":3.5669},{"g":1,"x":4.4804,"y":3.5713},{"g":1,"x":4.4751,"y":3.5669},{"g":1,"x":4.4709,"y":3.5713},{"g":1,"x":4.4702,"y":3.5834},{"g":1,"x":4.4713,"y":3.5945},{"g":1,"x":4.4751,"y":3.5978},{"g":1,"x":4.4804,"y":3.5945},{"g":1,"x":4.4849,"y":3.5978},{"g":1,"x":4.4891,"y":3.5945},
{"g":2,"x":4.4996,"y":3.6862},{"g":2,"x":4.4954,"y":3.6707},{"g":2,"x":4.4867,"y":3.6674},{"g":2,"x":4.4762,"y":3.6663},{"g":2,"x":4.4674,"y":3.6685},{"g":2,"x":4.4622,"y":3.6807},{"g":2,"x":4.4615,"y":3.7083},{"g":2,"x":4.4646,"y":3.7359},{"g":2,"x":4.4702,"y":3.7547},{"g":2,"x":4.4779,"y":3.7658},{"g":2,"x":4.4867,"y":3.7713},{"g":2,"x":4.4926,"y":3.7636},{"g":2,"x":4.4968,"y":3.7359},{"g":2,"x":4.4993,"y":3.7083},
{"g":3,"x":4.4954,"y":3.6917},{"g":3,"x":4.4919,"y":3.6763},{"g":3,"x":4.4849,"y":3.6718},{"g":3,"x":4.4762,"y":3.6707},{"g":3,"x":4.4692,"y":3.6752},{"g":3,"x":4.4664,"y":3.6917},{"g":3,"x":4.4667,"y":3.7138},{"g":3,"x":4.4702,"y":3.7337},{"g":3,"x":4.4762,"y":3.747},{"g":3,"x":4.4832,"y":3.7525},{"g":3,"x":4.4895,"y":3.747},{"g":3,"x":4.4933,"y":3.7304},{"g":3,"x":4.4951,"y":3.7083},
{"g":4,"x":4.4909,"y":3.6973},{"g":4,"x":4.4884,"y":3.684},{"g":4,"x":4.4821,"y":3.6785},{"g":4,"x":4.4762,"y":3.6785},{"g":4,"x":4.472,"y":3.6862},{"g":4,"x":4.4709,"y":3.7028},{"g":4,"x":4.4727,"y":3.7194},{"g":4,"x":4.4779,"y":3.7271},{"g":4,"x":4.4821,"y":3.7304},{"g":4,"x":4.4874,"y":3.7271},{"g":4,"x":4.4902,"y":3.7138},
{"g":5,"x":4.5829,"y":3.4895},{"g":5,"x":4.5801,"y":3.4707},{"g":5,"x":4.5724,"y":3.4586},{"g":5,"x":4.5602,"y":3.4564},{"g":5,"x":4.5514,"y":3.4652},{"g":5,"x":4.549,"y":3.4818},{"g":5,"x":4.5514,"y":3.5006},{"g":5,"x":4.5602,"y":3.5138},{"g":5,"x":4.5707,"y":3.5171},{"g":5,"x":4.5794,"y":3.5094},
{"g":6,"x":4.5777,"y":3.4895},{"g":6,"x":4.5759,"y":3.474},{"g":6,"x":4.5707,"y":3.4685},{"g":6,"x":4.5602,"y":3.4674},{"g":6,"x":4.5556,"y":3.474},{"g":6,"x":4.5549,"y":3.4895},{"g":6,"x":4.5574,"y":3.5017},{"g":6,"x":4.5654,"y":3.5061},{"g":6,"x":4.5724,"y":3.5061},{"g":6,"x":4.5763,"y":3.5006},
{"g":7,"x":4.5497,"y":3.6696},{"g":7,"x":4.5479,"y":3.6442},{"g":7,"x":4.5416,"y":3.6276},{"g":7,"x":4.5322,"y":3.6199},{"g":7,"x":4.5217,"y":3.6199},{"g":7,"x":4.5122,"y":3.6287},{"g":7,"x":4.5077,"y":3.6475},{"g":7,"x":4.5084,"y":3.6729},{"g":7,"x":4.5136,"y":3.6917},{"g":7,"x":4.5234,"y":3.7028},{"g":7,"x":4.5339,"y":3.7061},{"g":7,"x":4.5427,"y":3.6973},{"g":7,"x":4.5479,"y":3.6862},
{"g":8,"x":4.5444,"y":3.6696},{"g":8,"x":4.543,"y":3.6475},{"g":8,"x":4.5374,"y":3.6332},{"g":8,"x":4.5287,"y":3.6265},{"g":8,"x":4.5199,"y":3.6276},{"g":8,"x":4.5136,"y":3.6387},{"g":8,"x":4.5119,"y":3.6586},{"g":8,"x":4.514,"y":3.6807},{"g":8,"x":4.5206,"y":3.6928},{"g":8,"x":4.5304,"y":3.6973},{"g":8,"x":4.5388,"y":3.6917},{"g":8,"x":4.5434,"y":3.6818},
{"g":9,"x":4.5381,"y":3.6674},{"g":9,"x":4.5367,"y":3.6508},{"g":9,"x":4.5322,"y":3.642},{"g":9,"x":4.5262,"y":3.6387},{"g":9,"x":4.5217,"y":3.6453},{"g":9,"x":4.5199,"y":3.6597},{"g":9,"x":4.5217,"y":3.6752},{"g":9,"x":4.5269,"y":3.6829},{"g":9,"x":4.5339,"y":3.684},{"g":9,"x":4.5374,"y":3.6774},
{"g":10,"x":4.5864,"y":3.7713},{"g":10,"x":4.5829,"y":3.7415},{"g":10,"x":4.5735,"y":3.7271},{"g":10,"x":4.5619,"y":3.7227},{"g":10,"x":4.5514,"y":3.7282},{"g":10,"x":4.5469,"y":3.7492},{"g":10,"x":4.5451,"y":3.7746},{"g":10,"x":4.5409,"y":3.7801},{"g":10,"x":4.5224,"y":3.7823},{"g":10,"x":4.5129,"y":3.7967},{"g":10,"x":4.5101,"y":3.8221},{"g":10,"x":4.5129,"y":3.852},{"g":10,"x":4.5224,"y":3.8707},{"g":10,"x":4.5364,"y":3.8741},{"g":10,"x":4.5479,"y":3.8597},{"g":10,"x":4.5619,"y":3.8553},{"g":10,"x":4.5759,"y":3.863},{"g":10,"x":4.5794,"y":3.8486},{"g":10,"x":4.5829,"y":3.8299},{"g":10,"x":4.5864,"y":3.7934},
{"g":11,"x":4.58,"y":3.7672},{"g":11,"x":4.5736,"y":3.7415},{"g":11,"x":4.5631,"y":3.7378},{"g":11,"x":4.5549,"y":3.7489},{"g":11,"x":4.5532,"y":3.7746},{"g":11,"x":4.5561,"y":3.8003},{"g":11,"x":4.5619,"y":3.8114},{"g":11,"x":4.5689,"y":3.8059},{"g":11,"x":4.5771,"y":3.7967},{"g":11,"x":4.5806,"y":3.7783},
{"g":12,"x":4.5731,"y":3.7658},{"g":12,"x":4.5717,"y":3.7591},{"g":12,"x":4.5661,"y":3.758},{"g":12,"x":4.5612,"y":3.7591},{"g":12,"x":4.5602,"y":3.7647},{"g":12,"x":4.5612,"y":3.7713},{"g":12,"x":4.5661,"y":3.7724},{"g":12,"x":4.5717,"y":3.7724},
{"g":13,"x":4.5451,"y":3.8276},{"g":13,"x":4.5427,"y":3.8044},{"g":13,"x":4.5364,"y":3.7912},{"g":13,"x":4.5287,"y":3.789},{"g":13,"x":4.521,"y":3.7967},{"g":13,"x":4.5168,"y":3.8133},{"g":13,"x":4.5164,"y":3.8354},{"g":13,"x":4.5199,"y":3.8553},{"g":13,"x":4.5269,"y":3.8652},{"g":13,"x":4.5357,"y":3.8663},{"g":13,"x":4.5416,"y":3.8553},
{"g":14,"x":4.5385,"y":3.8354},{"g":14,"x":4.5367,"y":3.8188},{"g":14,"x":4.5304,"y":3.8133},{"g":14,"x":4.5234,"y":3.8144},{"g":14,"x":4.5217,"y":3.8276},{"g":14,"x":4.5234,"y":3.8409},{"g":14,"x":4.5304,"y":3.8464},{"g":14,"x":4.5364,"y":3.8486}
],
"ll":[
{"t":"M5","x":4.7923,"y":3.3967},{"t":"M4","x":4.7923,"y":3.5039},{"t":"P2","x":4.7923,"y":3.6343},{"t":"M3/M6","x":4.7923,"y":3.7415},{"t":"M2","x":4.7916,"y":3.8575},{"t":"M6’","x":4.7916,"y":3.8962}
],
"rl":[
{"t":"N2","x":4.4534,"y":3.3658},{"t":"O5","x":4.6074,"y":3.4796},{"t":"O4","x":4.6057,"y":3.5624},{"t":"N3","x":4.4534,"y":3.5845},{"t":"P2","x":4.5584,"y":3.6343},{"t":"P3/P5","x":4.563,"y":3.6674},{"t":"N5","x":4.4534,"y":3.6939},{"t":"M3","x":4.4534,"y":3.7216},{"t":"N4","x":4.4534,"y":3.758},{"t":"N4","x":4.6036,"y":3.758},{"t":"O6","x":4.6036,"y":3.7857},{"t":"O2","x":4.6036,"y":3.81},{"t":"O3","x":4.6036,"y":3.8354},{"t":"O3","x":4.5035,"y":3.8243},{"t":"P4","x":4.5035,"y":3.8608},{"t":"O6’","x":4.6025,"y":3.9149}
],
"tl":[
{"x":4.8699,"i":3.75},{"x":4.8601,"i":4.2},{"x":4.8501,"i":5},{"x":4.8431,"i":7.5},{"x":4.8391,"i":12.5},{"x":4.8361,"i":22.5},{"x":4.8331,"i":29.5},{"x":4.8301,"i":26.25},{"x":4.8269,"i":21.25},{"x":4.8237,"i":25},{"x":4.8195,"i":30.5},{"x":4.8171,"i":27.5},{"x":4.8141,"i":18.75},{"x":4.8111,"i":11.25},{"x":4.8061,"i":7.5},{"x":4.7961,"i":5.5},{"x":4.7821,"i":5}
],
"tr":[
{"x":4.6199,"i":8.75},{"x":4.6094,"i":9.25},{"x":4.5974,"i":11.25},{"x":4.5904,"i":15},{"x":4.5854,"i":21.25},{"x":4.5794,"i":28.75},{"x":4.5744,"i":27.5},{"x":4.5674,"i":28.75},{"x":4.5634,"i":25},{"x":4.5574,"i":20},{"x":4.5514,"i":16.25},{"x":4.5454,"i":15},{"x":4.5394,"i":17.5},{"x":4.5334,"i":25},{"x":4.5314,"i":28},{"x":4.5264,"i":27},{"x":4.5224,"i":28.75},{"x":4.5174,"i":25},{"x":4.5124,"i":20},{"x":4.5074,"i":17.5},{"x":4.5014,"i":17},{"x":4.4954,"i":20},{"x":4.4904,"i":26.25},{"x":4.487,"i":30},{"x":4.4834,"i":26.25},{"x":4.4808,"i":23.75},{"x":4.4774,"i":26.25},{"x":4.474,"i":30},{"x":4.4704,"i":26.25},{"x":4.4654,"i":16.25},{"x":4.4594,"i":10},{"x":4.4514,"i":7.5},{"x":4.4414,"i":6.25}
],
"ls":[
{"i":0.5,"y":3.295},{"i":0.7,"y":3.3105},{"i":1.5,"y":3.3193},{"i":4,"y":3.3238},{"i":7.3,"y":3.3282},{"i":3.3,"y":3.3348},{"i":9,"y":3.3414},{"i":4.7,"y":3.3503},{"i":10.7,"y":3.358},{"i":6.7,"y":3.3658},{"i":2.3,"y":3.3735},{"i":1.3,"y":3.3867},{"i":1.3,"y":3.4},{"i":2.3,"y":3.4133},{"i":5.7,"y":3.4265},{"i":10.7,"y":3.4409},{"i":15.7,"y":3.4519},{"i":13.3,"y":3.4575},{"i":15.7,"y":3.463},{"i":10.7,"y":3.4718},{"i":8,"y":3.4807},{"i":10.7,"y":3.4895},{"i":9,"y":3.4984},{"i":7.3,"y":3.5072},{"i":4.7,"y":3.516},{"i":7.3,"y":3.526},{"i":12.3,"y":3.5348},{"i":14,"y":3.5437},{"i":9,"y":3.5525},{"i":7.3,"y":3.5613},{"i":13.3,"y":3.5746},{"i":10.7,"y":3.5831},{"i":7.3,"y":3.5901},{"i":4.7,"y":3.5978},{"i":4,"y":3.6089},{"i":9,"y":3.6163},{"i":12.3,"y":3.6273},{"i":15.7,"y":3.6384},{"i":19,"y":3.6457},{"i":20.7,"y":3.6531},{"i":17.3,"y":3.6604},{"i":20.7,"y":3.6678},{"i":15.7,"y":3.6752},{"i":19,"y":3.6825},{"i":17.3,"y":3.6899},{"i":20.7,"y":3.6973},{"i":17.3,"y":3.7028},{"i":20.7,"y":3.7083},{"i":30.7,"y":3.7157},{"i":35.7,"y":3.723},{"i":29,"y":3.7285},{"i":34,"y":3.734},{"i":35.7,"y":3.7415},{"i":30.7,"y":3.7489},{"i":27.3,"y":3.7562},{"i":20.7,"y":3.7672},{"i":12.3,"y":3.782},{"i":10.7,"y":3.7893},{"i":9,"y":3.8003},{"i":8,"y":3.8152},{"i":10.7,"y":3.8262},{"i":19,"y":3.8373},{"i":27.3,"y":3.8464},{"i":29,"y":3.8501},{"i":22.3,"y":3.8556},{"i":14,"y":3.863},{"i":12.3,"y":3.8704},{"i":9,"y":3.8815},{"i":14,"y":3.8887},{"i":10.7,"y":3.8962},{"i":17.3,"y":3.9036},{"i":20.7,"y":3.9091},{"i":15.7,"y":3.9146},{"i":10.7,"y":3.9219},{"i":10.7,"y":3.9293},{"i":7.3,"y":3.9348},{"i":3.3,"y":3.9404},{"i":1.7,"y":3.9514},{"i":1,"y":3.9735},{"i":0.7,"y":4.0}
]
},
"hconcat":[
 {"spacing":2,"vconcat":[
   {"bounds":"flush","spacing":2,"hconcat":[
     {"width":44,"height":40,"view":{"stroke":null},"data":{"values":[{"a":1}]},"mark":{"type":"point","opacity":0},"encoding":{}},
     {"width":257,"height":40,"view":{"stroke":null},"layer":[
       {"data":{"name":"tl"},"mark":{"type":"line","interpolate":"cardinal","color":"#111","strokeWidth":1},
        "encoding":{"x":{"field":"x","type":"quantitative","scale":{"domain":[4.78,4.87],"reverse":true,"nice":false,"zero":false},"axis":null},
                    "y":{"field":"i","type":"quantitative","scale":{"domain":[0,40],"nice":false,"zero":false},"axis":null},
                    "order":{"value":null}}},
       {"data":{"values":[{"t":"M1","x":4.8263,"i":1}]},"mark":{"type":"text","baseline":"alphabetic"},
        "encoding":{"x":{"field":"x","type":"quantitative","scale":{"domain":[4.78,4.87],"reverse":true,"nice":false,"zero":false},"axis":null},
                    "y":{"field":"i","type":"quantitative","scale":{"domain":[0,40],"nice":false,"zero":false},"axis":null},
                    "text":{"field":"t"}}}
     ]}
   ]},
   {"bounds":"flush","spacing":2,"hconcat":[
     {"width":44,"height":638,"view":{"stroke":null},"data":{"name":"ls"},"mark":{"type":"line","color":"#111","strokeWidth":1},
      "encoding":{"x":{"field":"i","type":"quantitative","scale":{"domain":[0,44],"reverse":true,"nice":false,"zero":false},"axis":null},
                  "y":{"field":"y","type":"quantitative","scale":{"domain":[3.295,4.0],"reverse":true,"nice":false,"zero":false},"axis":null},
                  "order":{"value":null}}},
     {"width":257,"height":638,"resolve":{"axis":{"x":"independent","y":"independent"}},"layer":[
       {"data":{"name":"lk"},"mark":{"type":"line","interpolate":"cardinal-closed","color":"black","strokeWidth":1.3},
        "encoding":{"x":{"field":"x","type":"quantitative","scale":{"domain":[4.78,4.87],"reverse":true,"nice":false,"zero":false},
                         "axis":{"orient":"bottom","values":[4.85,4.8],"labelExpr":"datum.value > 4.82 ? format(datum.value, '.2f') : ''","tickSize":10,"labelPadding":0,"title":"ppm","titleX":256,"titleY":28,"titleAlign":"right","titleBaseline":"alphabetic","titleAngle":0}},
                    "y":{"field":"y","type":"quantitative","scale":{"domain":[3.295,4.0],"reverse":true,"nice":false,"zero":false},"axis":null},
                    "detail":{"field":"g"},"order":{"value":null}}},
       {"data":{"name":"lr"},"mark":{"type":"line","interpolate":"cardinal-closed","color":"#ff0000","strokeWidth":1.3},
        "encoding":{"x":{"field":"x","type":"quantitative","scale":{"domain":[4.78,4.87],"reverse":true,"nice":false,"zero":false},"axis":null},
                    "y":{"field":"y","type":"quantitative","scale":{"domain":[3.295,4.0],"reverse":true,"nice":false,"zero":false},"axis":null},
                    "detail":{"field":"g"},"order":{"value":null}}},
       {"data":{"name":"ll"},"mark":{"type":"text"},
        "encoding":{"x":{"field":"x","type":"quantitative","scale":{"domain":[4.78,4.87],"reverse":true,"nice":false,"zero":false},
                         "axis":{"orient":"bottom","values":[4.78,4.79,4.8,4.81,4.82,4.83,4.84,4.85,4.86,4.87],"tickSize":5,"labels":false,"title":null}},
                    "y":{"field":"y","type":"quantitative","scale":{"domain":[3.295,4.0],"reverse":true,"nice":false,"zero":false},"axis":null},
                    "text":{"field":"t"}}}
     ]}
   ]}
 ]},
 {"bounds":"flush","spacing":2,"vconcat":[
   {"width":514,"height":40,"view":{"stroke":null},"layer":[
     {"data":{"name":"tr"},"mark":{"type":"line","interpolate":"cardinal","color":"#111","strokeWidth":1},
      "encoding":{"x":{"field":"x","type":"quantitative","scale":{"domain":[4.44,4.62],"reverse":true,"nice":false,"zero":false},"axis":null},
                  "y":{"field":"i","type":"quantitative","scale":{"domain":[0,40],"nice":false,"zero":false},"axis":null},
                  "order":{"value":null}}},
     {"data":{"values":[{"t":"O1","x":4.5717,"i":1},{"t":"P1","x":4.5234,"i":1},{"t":"N1","x":4.4825,"i":1}]},"mark":{"type":"text","baseline":"alphabetic"},
      "encoding":{"x":{"field":"x","type":"quantitative","scale":{"domain":[4.44,4.62],"reverse":true,"nice":false,"zero":false},"axis":null},
                  "y":{"field":"i","type":"quantitative","scale":{"domain":[0,40],"nice":false,"zero":false},"axis":null},
                  "text":{"field":"t"}}}
   ]},
   {"width":514,"height":638,"resolve":{"axis":{"x":"independent","y":"independent"}},"layer":[
     {"data":{"name":"rk"},"mark":{"type":"line","interpolate":"cardinal-closed","color":"black","strokeWidth":1.3},
      "encoding":{"x":{"field":"x","type":"quantitative","scale":{"domain":[4.44,4.62],"reverse":true,"nice":false,"zero":false},
                       "axis":{"orient":"bottom","values":[4.6,4.55,4.5,4.45],"format":".2f","tickSize":10,"labelPadding":0,"title":"ppm","titleX":524,"titleY":28,"titleAlign":"left","titleBaseline":"alphabetic","titleAngle":0}},
                  "y":{"field":"y","type":"quantitative","scale":{"domain":[3.295,4.0],"reverse":true,"nice":false,"zero":false},
                       "axis":{"orient":"right","values":[3.4,3.5,3.6,3.7,3.8,3.9,4.0],"format":".1f","tickSize":8,"labelPadding":3,"title":"ppm","titleAngle":0,"titleX":14,"titleY":-7,"titleAlign":"left","titleBaseline":"alphabetic"}},
                  "detail":{"field":"g"},"order":{"value":null}}},
     {"data":{"name":"rr"},"mark":{"type":"line","interpolate":"cardinal-closed","color":"#ff0000","strokeWidth":1.3},
      "encoding":{"x":{"field":"x","type":"quantitative","scale":{"domain":[4.44,4.62],"reverse":true,"nice":false,"zero":false},"axis":null},
                  "y":{"field":"y","type":"quantitative","scale":{"domain":[3.295,4.0],"reverse":true,"nice":false,"zero":false},"axis":null},
                  "detail":{"field":"g"},"order":{"value":null}}},
     {"data":{"name":"rl"},"mark":{"type":"text"},
      "encoding":{"x":{"field":"x","type":"quantitative","scale":{"domain":[4.44,4.62],"reverse":true,"nice":false,"zero":false},
                       "axis":{"orient":"bottom","values":[4.44,4.45,4.46,4.47,4.48,4.49,4.5,4.51,4.52,4.53,4.54,4.55,4.56,4.57,4.58,4.59,4.6,4.61,4.62],"tickSize":5,"labels":false,"title":null}},
                  "y":{"field":"y","type":"quantitative","scale":{"domain":[3.295,4.0],"reverse":true,"nice":false,"zero":false},
                       "axis":{"orient":"right","values":[3.3,3.31,3.32,3.33,3.34,3.35,3.36,3.37,3.38,3.39,3.4,3.41,3.42,3.43,3.44,3.45,3.46,3.47,3.48,3.49,3.5,3.51,3.52,3.53,3.54,3.55,3.56,3.57,3.58,3.59,3.6,3.61,3.62,3.63,3.64,3.65,3.66,3.67,3.68,3.69,3.7,3.71,3.72,3.73,3.74,3.75,3.76,3.77,3.78,3.79,3.8,3.81,3.82,3.83,3.84,3.85,3.86,3.87,3.88,3.89,3.9,3.91,3.92,3.93,3.94,3.95,3.96,3.97,3.98,3.99,4.0],"tickSize":5,"labels":false,"title":null}},
                  "text":{"field":"t"}}}
   ]}
 ]}
]
}
